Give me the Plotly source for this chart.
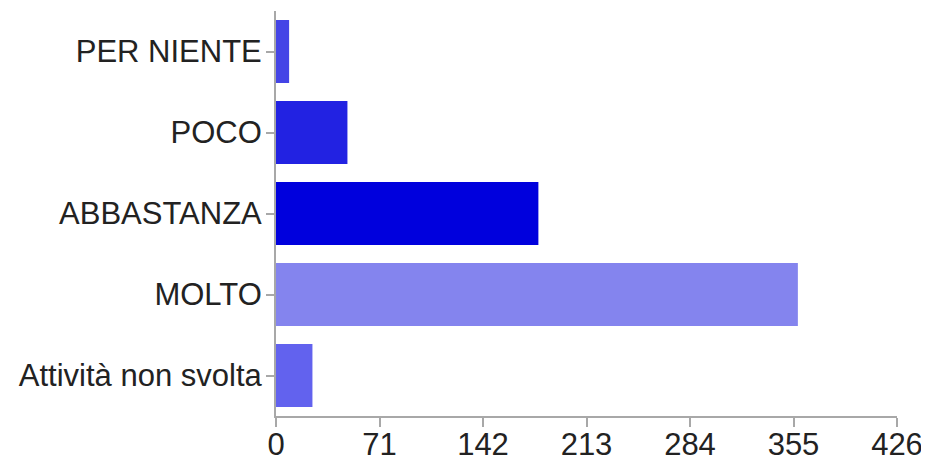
import plotly.graph_objects as go

categories = ["PER NIENTE", "POCO", "ABBASTANZA", "MOLTO", "Attività non svolta"]
values = [9, 49, 180, 358, 25]
colors = ["#4444e6", "#2222e2", "#0000dd", "#8484ee", "#6262ee"]
tick_vals = [0, 71, 142, 213, 284, 355, 426]

fig = go.Figure(go.Bar(
    y=categories, x=values, orientation="h",
    marker=dict(color=colors, line=dict(width=0)),
))

# page body has an 8px margin, so the figure is sized 921x458
fig.update_layout(
    width=921, height=458,
    margin=dict(l=268, r=32, t=3, b=50, autoexpand=False),
    plot_bgcolor="white", paper_bgcolor="white",
    bargap=0.22,
    showlegend=False,
    font=dict(family="Liberation Sans, Arial, sans-serif", size=31, color="#222"),
)
fig.update_xaxes(
    range=[0, 426], tickvals=tick_vals, ticktext=[str(v) for v in tick_vals],
    showgrid=False, zeroline=False, showline=True, linecolor="#a8a8a8", linewidth=2,
    ticks="outside", ticklen=9, tickcolor="#a8a8a8", tickwidth=2,
    ticklabelstandoff=-9, automargin=False,
)
fig.update_yaxes(
    autorange="reversed", showgrid=False, zeroline=False,
    showline=True, linecolor="#a8a8a8", linewidth=2,
    ticks="outside", ticklen=8, tickcolor="#a8a8a8", tickwidth=2,
    ticklabelstandoff=-2, automargin=False,
)

fig.write_html("out.html")
